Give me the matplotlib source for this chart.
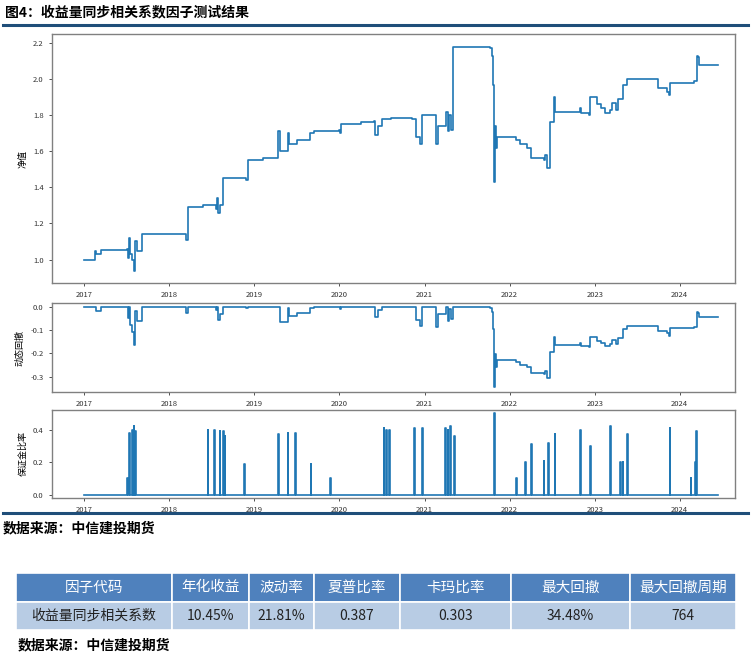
import matplotlib
matplotlib.use("Agg")
import matplotlib.pyplot as plt
import numpy as np
from matplotlib.patches import Rectangle
from matplotlib.lines import Line2D

plt.rcParams['font.family'] = ['Noto Sans CJK SC', 'DejaVu Sans']

nav_points = [
 (2017.0,1.00),(2017.13,1.05),(2017.14,1.03),(2017.2,1.055),(2017.5,1.06),(2017.51,1.01),(2017.52,1.12),
 (2017.54,1.03),(2017.56,1.00),(2017.58,0.935),(2017.6,1.10),(2017.62,1.05),(2017.68,1.14),
 (2018.2,1.11),(2018.22,1.29),(2018.4,1.30),(2018.55,1.28),(2018.56,1.34),(2018.57,1.26),(2018.6,1.30),
 (2018.63,1.45),(2018.9,1.44),(2018.92,1.55),(2019.1,1.56),(2019.27,1.565),(2019.28,1.71),(2019.3,1.60),
 (2019.4,1.70),(2019.41,1.64),(2019.5,1.66),(2019.65,1.70),(2019.7,1.71),(2020.0,1.72),(2020.01,1.70),
 (2020.02,1.75),(2020.25,1.76),(2020.4,1.77),(2020.42,1.69),(2020.45,1.74),(2020.5,1.78),(2020.6,1.785),
 (2020.85,1.78),(2020.9,1.68),(2020.95,1.64),(2020.97,1.80),(2021.13,1.80),(2021.14,1.64),(2021.16,1.74),
 (2021.25,1.82),(2021.27,1.71),(2021.29,1.80),(2021.31,1.72),(2021.33,2.18),(2021.77,2.17),(2021.79,2.13),
 (2021.81,1.97),(2021.82,1.43),(2021.83,1.74),(2021.84,1.62),(2021.85,1.68),(2022.07,1.66),(2022.12,1.64),
 (2022.2,1.62),(2022.25,1.56),(2022.4,1.55),(2022.42,1.58),(2022.44,1.51),(2022.48,1.76),(2022.52,1.90),
 (2022.53,1.82),(2022.83,1.84),(2022.84,1.81),(2022.93,1.80),(2022.95,1.90),(2023.03,1.86),(2023.07,1.84),
 (2023.12,1.81),(2023.18,1.83),(2023.2,1.87),(2023.25,1.83),(2023.28,1.89),(2023.33,1.97),(2023.38,2.00),
 (2023.75,1.95),(2023.85,1.93),(2023.87,1.91),(2023.88,1.98),(2024.17,1.99),(2024.2,2.13),(2024.22,2.12),
 (2024.23,2.08),(2024.45,2.08)]
nav_t = [p[0] for p in nav_points]
nav_v = [p[1] for p in nav_points]

margin_t = [2017.5,2017.53,2017.56,2017.58,2017.6,2018.45,2018.53,2018.59,2018.63,2018.65,2018.88,2019.28,2019.39,2019.48,
 2019.66,2019.89,2020.52,2020.55,2020.58,2020.88,2020.97,2021.24,2021.27,2021.3,2021.35,2021.82,2022.08,2022.18,2022.25,
 2022.4,2022.45,2022.53,2022.83,2022.95,2023.18,2023.3,2023.33,2023.38,2023.88,2024.13,2024.18,2024.19]
margin_v = [0.10,0.38,0.40,0.42,0.39,0.40,0.40,0.39,0.39,0.36,0.19,0.37,0.38,0.38,
 0.19,0.10,0.41,0.40,0.40,0.41,0.41,0.41,0.40,0.42,0.36,0.50,0.10,0.20,0.31,
 0.21,0.32,0.37,0.40,0.30,0.42,0.20,0.20,0.37,0.41,0.10,0.20,0.39]
years = [2017,2018,2019,2020,2021,2022,2023,2024]

headers = ['因子代码','年化收益','波动率','夏普比率','卡玛比率','最大回撤','最大回撤周期']
row = ['收益量同步相关系数','10.45%','21.81%','0.387','0.303','34.48%','764']

W, H = 751, 656
fig = plt.figure(figsize=(W/100, H/100), dpi=100)
def ax_px(l, t, r, b):
    return fig.add_axes([l/W, 1-b/H, (r-l)/W, (b-t)/H])

C = '#1f77b4'
xlim = (2016.62, 2024.65)
ax1 = ax_px(52, 34, 735, 283)
ax2 = ax_px(52, 303, 735, 392)
ax3 = ax_px(52, 410, 735, 498)

ax1.step(nav_t, nav_v, where='post', color=C, lw=1.2)
ax1.set_ylim(0.87, 2.25)
ax1.set_yticks([1.0,1.2,1.4,1.6,1.8,2.0,2.2])
ax1.set_ylabel('净值', fontsize=6.5)

nav = np.array(nav_v)
dd = nav/np.maximum.accumulate(nav) - 1
ax2.step(nav_t, dd, where='post', color=C, lw=1.2)
ax2.set_ylim(-0.365, 0.015)
ax2.set_yticks([0.0,-0.1,-0.2,-0.3])
ax2.set_ylabel('动态回撤', fontsize=6.5)

mx = [2017.0]; my = [0.0]
for t, v in zip(margin_t, margin_v):
    mx += [t, t, t+0.008, t+0.008]; my += [0, v, v, 0]
mx.append(2024.45); my.append(0)
ax3.plot(mx, my, color=C, lw=1.2)
ax3.set_ylim(-0.02, 0.52)
ax3.set_yticks([0.0,0.2,0.4])
ax3.set_ylabel('保证金比率', fontsize=6.5)

for ax in (ax1, ax2, ax3):
    ax.set_xlim(*xlim)
    ax.set_xticks(years)
    ax.set_xticklabels([str(y) for y in years])
    ax.tick_params(labelsize=5.5, length=2.5, width=0.6, colors='#333333')
    for s in ax.spines.values():
        s.set_color('#808080'); s.set_linewidth(1.0)
    ax.yaxis.set_major_formatter(matplotlib.ticker.FormatStrFormatter('%.1f'))

fig.text(5/W, 1-12/H, '图4：收益量同步相关系数因子测试结果', fontsize=10, fontweight='bold', va='center')
fig.add_artist(Line2D([3/W, 748/W], [1-25/H]*2, color='#1f4e79', lw=2.2))
fig.add_artist(Line2D([3/W, 748/W], [1-513/H]*2, color='#1f4e79', lw=2.2))
fig.text(3/W, 1-528/H, '数据来源：中信建投期货', fontsize=10, fontweight='bold', style='italic', va='center')
fig.text(18/W, 1-645/H, '数据来源：中信建投期货', fontsize=10, fontweight='bold', style='italic', va='center')

bounds = [16,172,249,314,400,511,630,736]
rows_y = [(573,602,'#4f81bd','white',headers),(602,630,'#b8cce4','#222222',row)]
for top, bot, fc, tc, cells in rows_y:
    for i, txt in enumerate(cells):
        l, r = bounds[i], bounds[i+1]
        fig.add_artist(Rectangle((l/W, 1-bot/H), (r-l)/W, (bot-top)/H, facecolor=fc,
                                 edgecolor='white', lw=1.2, transform=fig.transFigure))
        fig.text((l+r)/2/W, 1-(top+bot)/2/H, txt, color=tc, fontsize=10.5 if tc=='white' else 10,
                 ha='center', va='center')

fig.savefig('out.png', dpi=100)
